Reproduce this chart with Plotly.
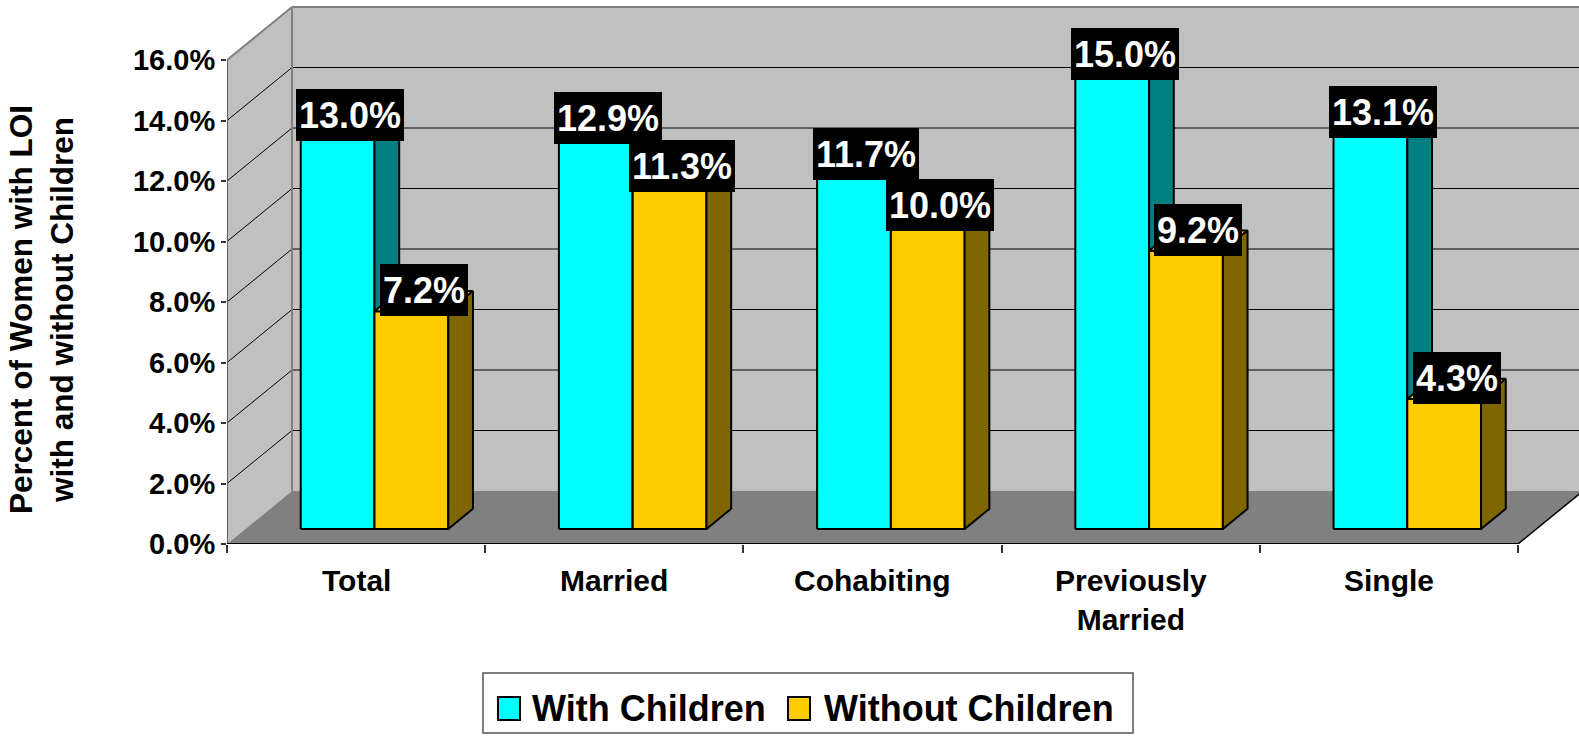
import plotly.graph_objects as go

# ---- data -------------------------------------------------------------
categories = ["Total", "Married", "Cohabiting", "Previously<br>Married", "Single"]
with_children = [13.0, 12.9, 11.7, 15.0, 13.1]
without_children = [7.2, 11.3, 10.0, 9.2, 4.3]
y_ticks = [0, 2, 4, 6, 8, 10, 12, 14, 16]
y_tick_labels = ["0.0%", "2.0%", "4.0%", "6.0%", "8.0%", "10.0%", "12.0%", "14.0%", "16.0%"]
series_names = ["With Children", "Without Children"]

# ---- 3-D box geometry (x in category units, y in percent units) -------
Y_MAX = 16.0
DEPTH_X = 0.2517          # full depth of the floor, horizontal component
DEPTH_Y = 1.752           # full depth of the floor, vertical component
FRONT_GAP = 0.283         # bars start this far back (fraction of depth)
BAR_DEPTH = 0.38          # bar thickness (fraction of depth)
BAR_W = 1 / 3.5           # gap width 150 %

dx0, dy0 = DEPTH_X * FRONT_GAP, DEPTH_Y * FRONT_GAP
ddx, ddy = DEPTH_X * BAR_DEPTH, DEPTH_Y * BAR_DEPTH
n_cat = len(categories)

# plotting area in pixels (for layout items such as the legend)
PL, PW, PT, PH = 227, 1352, 0, 544
X_UNIT = 258.2            # pixels per category
Y_UNIT = 30.25            # pixels per percent


def px(xp):
    return (xp - PL) / PW


def py(yp):
    return (PT + PH - yp) / PH


FONT = "Liberation Sans, Arial, sans-serif"
CYAN, TEAL = "#00FFFF", "#008080"
YELLOW, OLIVE = "#FFCC00", "#806600"

fig = go.Figure()


def face(xs, ys, color):
    fig.add_trace(go.Scatter(
        x=xs + [xs[0]], y=ys + [ys[0]], mode="lines", fill="toself",
        fillcolor=color, line=dict(color="black", width=2),
        hoverinfo="skip", showlegend=False))


def bar3d(x0, v, front, side):
    y0 = dy0
    y1 = v + dy0
    x1 = x0 + BAR_W
    face([x0, x1, x1, x0], [y0, y0, y1, y1], front)                       # front
    face([x0, x1, x1 + ddx, x0 + ddx], [y1, y1, y1 + ddy, y1 + ddy], front)  # top
    face([x1, x1 + ddx, x1 + ddx, x1], [y0, y0 + ddy, y1 + ddy, y1], side)   # side


labels = []
for i in range(n_cat):
    xc = i + 0.5 - BAR_W + dx0
    xy = i + 0.5 + dx0
    bar3d(xc, with_children[i], CYAN, TEAL)
    bar3d(xy, without_children[i], YELLOW, OLIVE)
    for xs, v in ((xc, with_children[i]), (xy, without_children[i])):
        labels.append(dict(
            x=xs + BAR_W / 2 + ddx / 2, y=v + dy0 + ddy / 2, yshift=11,
            xref="x", yref="y", text=f"{v:.1f}%", showarrow=False,
            font=dict(family=FONT, size=36, color="white", weight="bold"),
            bgcolor="black", borderpad=3, borderwidth=0, height=46,
            xanchor="center", yanchor="middle"))

# ---- walls, floor and grid -------------------------------------------
shapes = []
WALL, FLOOR = "#C0C0C0", "#808080"
shapes.append(dict(type="rect", xref="x", yref="y", layer="below",
                   x0=DEPTH_X, x1=n_cat + DEPTH_X, y0=DEPTH_Y, y1=Y_MAX + DEPTH_Y,
                   fillcolor=WALL, line=dict(width=0)))
shapes.append(dict(type="path", xref="x", yref="y", layer="below",
                   path=f"M0,0 L{DEPTH_X},{DEPTH_Y} L{DEPTH_X},{Y_MAX + DEPTH_Y} L0,{Y_MAX} Z",
                   fillcolor=WALL, line=dict(width=0)))
shapes.append(dict(type="path", xref="x", yref="y", layer="below",
                   path=f"M0,0 L{n_cat},0 L{n_cat + DEPTH_X},{DEPTH_Y} L{DEPTH_X},{DEPTH_Y} Z",
                   fillcolor=FLOOR, line=dict(width=0)))
for t in y_ticks[1:-1]:
    shapes.append(dict(type="line", xref="x", yref="y", layer="below",
                       x0=DEPTH_X, x1=n_cat + DEPTH_X, y0=t + DEPTH_Y, y1=t + DEPTH_Y,
                       line=dict(color="black", width=1)))
    shapes.append(dict(type="line", xref="x", yref="y", layer="below",
                       x0=0, x1=DEPTH_X, y0=t, y1=t + DEPTH_Y,
                       line=dict(color="black", width=1)))
EDGE = dict(color="#808080", width=2)
shapes += [
    dict(type="line", xref="x", yref="y", layer="below", x0=DEPTH_X, x1=n_cat + DEPTH_X,
         y0=Y_MAX + DEPTH_Y, y1=Y_MAX + DEPTH_Y, line=EDGE),
    dict(type="line", xref="x", yref="y", layer="below", x0=0, x1=DEPTH_X,
         y0=Y_MAX, y1=Y_MAX + DEPTH_Y, line=EDGE),
    dict(type="line", xref="x", yref="y", layer="below", x0=DEPTH_X, x1=DEPTH_X,
         y0=DEPTH_Y, y1=Y_MAX + DEPTH_Y, line=EDGE),
    dict(type="line", xref="x", yref="y", layer="below", x0=0, x1=0,
         y0=0, y1=Y_MAX, line=dict(color="#606060", width=2)),
    dict(type="line", xref="x", yref="y", layer="below", x0=0, x1=n_cat,
         y0=0, y1=0, line=dict(color="black", width=2)),
    dict(type="line", xref="x", yref="y", layer="below", x0=n_cat, x1=n_cat + DEPTH_X,
         y0=0, y1=DEPTH_Y, line=dict(color="black", width=1.5)),
]

# ---- legend ------------------------------------------------------------
shapes.append(dict(type="rect", xref="paper", yref="paper",
                   x0=px(483), x1=px(1133), y0=py(673), y1=py(733),
                   fillcolor="white", line=dict(color="#555555", width=1.5)))
legend_items = [(series_names[0], CYAN, 498, 531), (series_names[1], YELLOW, 788, 823)]
for name, col, sx, tx in legend_items:
    shapes.append(dict(type="rect", xref="paper", yref="paper",
                       x0=px(sx), x1=px(sx + 22), y0=py(697), y1=py(720),
                       fillcolor=col, line=dict(color="black", width=2)))
    labels.append(dict(x=px(tx), y=py(708), xref="paper", yref="paper",
                       text=name, showarrow=False, xanchor="left", yanchor="middle",
                       borderpad=0,
                       font=dict(family=FONT, size=36, color="black", weight="bold")))

# ---- category labels and axis title -----------------------------------
for i, c in enumerate(categories):
    labels.append(dict(x=i + 0.5, y=py(562), xref="x", yref="paper", text=c,
                       showarrow=False, xanchor="center", yanchor="top", align="center",
                       font=dict(family=FONT, size=30, color="black", weight="bold")))
labels.append(dict(x=px(41), y=py(310), xref="paper", yref="paper",
                   text="Percent of Women with LOI<br>with and without Children",
                   textangle=-90, showarrow=False, xanchor="center", yanchor="middle",
                   font=dict(family=FONT, size=31.5, color="black", weight="bold")))

fig.update_layout(
    template="none",
    width=1579, height=736,
    margin=dict(l=PL, r=1579 - PL - PW, t=PT, b=736 - PT - PH, pad=0),
    paper_bgcolor="white", plot_bgcolor="white",
    showlegend=False,
    shapes=shapes, annotations=labels,
    xaxis=dict(range=[0, PW / X_UNIT], showgrid=False, zeroline=False, showline=False,
               tickvals=list(range(n_cat + 1)), ticks="outside", ticklen=8,
               tickwidth=1.5, tickcolor="#333333", showticklabels=False,
               automargin=False, fixedrange=True),
    yaxis=dict(range=[0, PH / Y_UNIT], showgrid=False, zeroline=False, showline=False,
               tickvals=y_ticks, ticktext=y_tick_labels,
               ticks="outside", ticklen=5, tickwidth=2, tickcolor="#333333",
               tickfont=dict(family=FONT, size=29, color="black", weight="bold"),
               automargin=False, fixedrange=True),
)

fig.write_html("out.html")
